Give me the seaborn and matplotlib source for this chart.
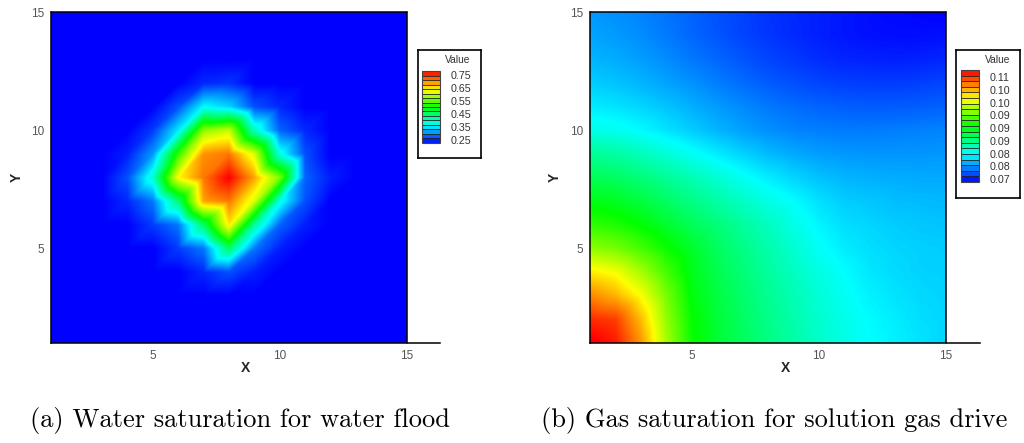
import numpy as np
import matplotlib
matplotlib.use("Agg")
import matplotlib.pyplot as plt
import matplotlib.tri as mtri
from matplotlib.colors import BoundaryNorm, ListedColormap, Normalize
from matplotlib.cm import ScalarMappable
import seaborn as sns

# ---------------- data ----------------
grid_x = list(range(1, 16))
grid_y = list(range(1, 16))

# Water saturation at grid nodes, rows listed from y=15 (top) down to y=1
water_rows = [
    [0.227]*15,
    [0.227]*15,
    [0.227]*15,
    [0.227, 0.227, 0.227, 0.227, 0.227, 0.227, 0.249, 0.255, 0.227, 0.227, 0.227, 0.227, 0.227, 0.227, 0.227],
    [0.227, 0.227, 0.227, 0.227, 0.227, 0.271, 0.365, 0.345, 0.271, 0.249, 0.227, 0.227, 0.227, 0.227, 0.227],
    [0.227, 0.227, 0.227, 0.227, 0.260, 0.355, 0.580, 0.610, 0.400, 0.282, 0.249, 0.227, 0.227, 0.227, 0.227],
    [0.227, 0.227, 0.227, 0.244, 0.310, 0.530, 0.700, 0.715, 0.620, 0.380, 0.271, 0.227, 0.227, 0.227, 0.227],
    [0.227, 0.227, 0.227, 0.271, 0.390, 0.642, 0.715, 0.780, 0.690, 0.570, 0.282, 0.244, 0.227, 0.227, 0.227],
    [0.227, 0.227, 0.227, 0.249, 0.293, 0.440, 0.690, 0.715, 0.620, 0.380, 0.271, 0.227, 0.227, 0.227, 0.227],
    [0.227, 0.227, 0.227, 0.227, 0.260, 0.293, 0.450, 0.653, 0.421, 0.282, 0.244, 0.227, 0.227, 0.227, 0.227],
    [0.227, 0.227, 0.227, 0.227, 0.227, 0.260, 0.293, 0.450, 0.293, 0.244, 0.227, 0.227, 0.227, 0.227, 0.227],
    [0.227, 0.227, 0.227, 0.227, 0.227, 0.227, 0.249, 0.271, 0.244, 0.227, 0.227, 0.227, 0.227, 0.227, 0.227],
    [0.227]*15,
    [0.227]*15,
    [0.227]*15,
]

# Gas saturation at grid nodes, rows listed from y=15 (top) down to y=1
gas_rows = [
    [0.0779, 0.0776, 0.0772, 0.0766, 0.0760, 0.0754, 0.0749, 0.0744, 0.0740, 0.0737, 0.0734, 0.0731, 0.0729, 0.0728, 0.0727],
    [0.0783, 0.0780, 0.0775, 0.0769, 0.0762, 0.0756, 0.0750, 0.0745, 0.0741, 0.0737, 0.0734, 0.0732, 0.0731, 0.0731, 0.0732],
    [0.0789, 0.0786, 0.0781, 0.0775, 0.0768, 0.0762, 0.0756, 0.0750, 0.0746, 0.0742, 0.0739, 0.0738, 0.0737, 0.0738, 0.0740],
    [0.0797, 0.0794, 0.0789, 0.0783, 0.0777, 0.0770, 0.0764, 0.0758, 0.0754, 0.0750, 0.0748, 0.0747, 0.0747, 0.0748, 0.0750],
    [0.0808, 0.0805, 0.0800, 0.0794, 0.0787, 0.0780, 0.0774, 0.0768, 0.0764, 0.0761, 0.0759, 0.0758, 0.0758, 0.0759, 0.0760],
    [0.0822, 0.0819, 0.0813, 0.0805, 0.0797, 0.0789, 0.0782, 0.0776, 0.0772, 0.0770, 0.0769, 0.0769, 0.0770, 0.0771, 0.0772],
    [0.0850, 0.0846, 0.0838, 0.0828, 0.0818, 0.0808, 0.0799, 0.0791, 0.0785, 0.0781, 0.0779, 0.0778, 0.0778, 0.0778, 0.0779],
    [0.0872, 0.0868, 0.0860, 0.0850, 0.0840, 0.0829, 0.0818, 0.0808, 0.0800, 0.0793, 0.0789, 0.0787, 0.0786, 0.0785, 0.0785],
    [0.0895, 0.0890, 0.0880, 0.0868, 0.0856, 0.0845, 0.0834, 0.0823, 0.0814, 0.0804, 0.0797, 0.0795, 0.0792, 0.0791, 0.0790],
    [0.0918, 0.0912, 0.0900, 0.0886, 0.0872, 0.0860, 0.0848, 0.0836, 0.0823, 0.0811, 0.0803, 0.0800, 0.0797, 0.0795, 0.0794],
    [0.0950, 0.0942, 0.0925, 0.0905, 0.0887, 0.0870, 0.0856, 0.0843, 0.0830, 0.0817, 0.0808, 0.0803, 0.0800, 0.0798, 0.0797],
    [0.0995, 0.0985, 0.0958, 0.0925, 0.0893, 0.0875, 0.0861, 0.0848, 0.0836, 0.0824, 0.0814, 0.0806, 0.0802, 0.0799, 0.0798],
    [0.1030, 0.1015, 0.0988, 0.0942, 0.0898, 0.0879, 0.0865, 0.0852, 0.0840, 0.0828, 0.0818, 0.0810, 0.0805, 0.0801, 0.0799],
    [0.1062, 0.1055, 0.1012, 0.0952, 0.0903, 0.0883, 0.0868, 0.0855, 0.0843, 0.0831, 0.0821, 0.0813, 0.0808, 0.0803, 0.0800],
    [0.1080, 0.1068, 0.1025, 0.0958, 0.0905, 0.0885, 0.0870, 0.0857, 0.0845, 0.0833, 0.0823, 0.0815, 0.0810, 0.0805, 0.0800],
]

water_levels = [0.227, 0.262, 0.296, 0.331, 0.365, 0.400, 0.434, 0.469, 0.503,
                0.538, 0.572, 0.607, 0.642, 0.676, 0.711, 0.745, 0.780]
water_ticks = [0.25, 0.35, 0.45, 0.55, 0.65, 0.75]
water_tick_labels = ["0.25", "0.35", "0.45", "0.55", "0.65", "0.75"]

gas_levels = [0.0726, 0.0744, 0.0761, 0.0779, 0.0796, 0.0814, 0.0831, 0.0849,
              0.0866, 0.0884, 0.0902, 0.0919, 0.0937, 0.0954, 0.0972, 0.0989,
              0.1007, 0.1024, 0.1042, 0.1059, 0.1077]
gas_ticks = [0.0735, 0.0775, 0.0815, 0.0855, 0.0895, 0.0935, 0.0975, 0.1015, 0.1055]
gas_tick_labels = ["0.07", "0.08", "0.08", "0.09", "0.09", "0.09", "0.10", "0.10", "0.11"]

captions = ["(a) Water saturation for water flood",
            "(b) Gas saturation for solution gas drive"]

# ---------------- style ----------------
sns.set_style("white")
plt.rcParams["font.family"] = ["Liberation Sans", "DejaVu Sans"]

cmap = sns.blend_palette(["#0000ff", "#00ffff", "#00ff00", "#ffff00", "#ff0000"],
                         as_cmap=True)

W, H = 1024, 443
fig = plt.figure(figsize=(W / 100, H / 100), dpi=100)


def rect(x0, y0, x1, y1):
    return [x0 / W, 1 - y1 / H, (x1 - x0) / W, (y1 - y0) / H]


# triangulation of the node grid (cells split along the "/" diagonal)
xx, yy = np.meshgrid(grid_x, grid_y)
n = len(grid_x)
tris = []
for j in range(len(grid_y) - 1):
    for i in range(n - 1):
        a = j * n + i
        tris.append([a, a + 1, a + n + 1])
        tris.append([a, a + n + 1, a + n])
triang = mtri.Triangulation(xx.ravel(), yy.ravel(), tris)

# fine sampling grid for linear (Gouraud-like) shading of node values
fine = np.linspace(grid_x[0], grid_x[-1], 701)
FX, FY = np.meshgrid(fine, fine)

panels = [
    dict(rows=water_rows, levels=water_levels, ticks=water_ticks,
         labels=water_tick_labels, ax=(51.4, 12, 440, 343), xmax=16.3,
         box=(418, 50, 481, 158), cbar=(422, 71, 440, 143), title_x=458,
         caption_x=240, pad=8.0),
    dict(rows=gas_rows, levels=gas_levels, ticks=gas_ticks,
         labels=gas_tick_labels, ax=(590.1, 12, 980, 343), xmax=16.35,
         box=(956, 50, 1020, 198), cbar=(961, 70, 979, 182), title_x=998,
         caption_x=774, pad=7.5),
]

for k, p in enumerate(panels):
    ax = fig.add_axes(rect(*p["ax"]))
    vals = np.array(p["rows"][::-1])
    vmin, vmax = p["levels"][0], p["levels"][-1]
    interp = mtri.LinearTriInterpolator(triang, vals.ravel())
    Z = interp(FX, FY)
    ax.imshow(Z, origin="lower", extent=(1, 15, 1, 15), cmap=cmap,
              vmin=vmin, vmax=vmax, interpolation="bilinear", aspect="auto")
    ax.set_xlim(1, p["xmax"])
    ax.set_ylim(1, 15)
    for s in ["top", "right"]:
        ax.spines[s].set_visible(False)
    for s in ["left", "bottom"]:
        ax.spines[s].set_color("black")
        ax.spines[s].set_linewidth(1.1)
    ax.axhline(15, xmin=0, xmax=(15 - 1) / (p["xmax"] - 1), color="black",
               lw=1.1, clip_on=False)
    ax.axvline(15, color="black", lw=1.1, clip_on=False)

    ax.set_xticks([5, 10, 15])
    ax.set_xticks(list(range(1, 17)), minor=True)
    ax.set_yticks([5, 10, 15])
    ax.set_yticks(list(range(1, 16)), minor=True)
    ax.set_xticklabels(["5", "10", "15"])
    ax.set_yticklabels(["5", "10", "15"])
    ax.tick_params(which="major", direction="in", length=6, width=0.8,
                   labelsize=8.5, labelcolor="#555555", color="black", pad=5)
    ax.tick_params(which="minor", direction="in", length=3, width=0.7,
                   color="black")
    ax.set_xlabel("X", fontweight="bold", fontsize=10)
    ax.set_ylabel("Y", fontweight="bold", fontsize=10)
    axw = p["ax"][2] - p["ax"][0]
    axh = p["ax"][3] - p["ax"][1]
    ax.xaxis.set_label_coords(0.5, -(361 - 343) / axh)
    ax.yaxis.set_label_coords(-28 / axw, 0.5)
    ax.grid(False)

    # legend box
    bx = fig.add_axes(rect(*p["box"]))
    bx.set_xticks([])
    bx.set_yticks([])
    bx.set_facecolor("white")
    for s in bx.spines.values():
        s.set_color("black")
        s.set_linewidth(1.2)
    fig.text(p["title_x"] / W, 1 - 60 / H, "Value", ha="center", va="center",
             fontsize=7.4, color="#333333")

    lev = p["levels"]
    mids = [(lev[i] + lev[i + 1]) / 2 for i in range(len(lev) - 1)]
    norm_c = Normalize(vmin, vmax)
    band_cmap = ListedColormap([cmap(norm_c(m)) for m in mids])
    cax = fig.add_axes(rect(*p["cbar"]))
    sm = ScalarMappable(norm=BoundaryNorm(lev, len(lev) - 1), cmap=band_cmap)
    cb = fig.colorbar(sm, cax=cax, drawedges=True, spacing="proportional",
                      ticks=p["ticks"])
    cb.ax.minorticks_off()
    cb.ax.set_yticklabels(p["labels"])
    cb.ax.tick_params(which="both", length=0, pad=p["pad"], labelsize=7.7,
                      labelcolor="#333333")
    cb.outline.set_edgecolor("#444444")
    cb.outline.set_linewidth(0.8)
    cb.dividers.set_color("#222222")
    cb.dividers.set_linewidth(0.6)

    fig.text(p["caption_x"] / W, 1 - 421 / H, captions[k], ha="center",
             va="center", fontsize=19, family="cmr10", color="black")

fig.savefig("out.png", dpi=100, facecolor="white")
